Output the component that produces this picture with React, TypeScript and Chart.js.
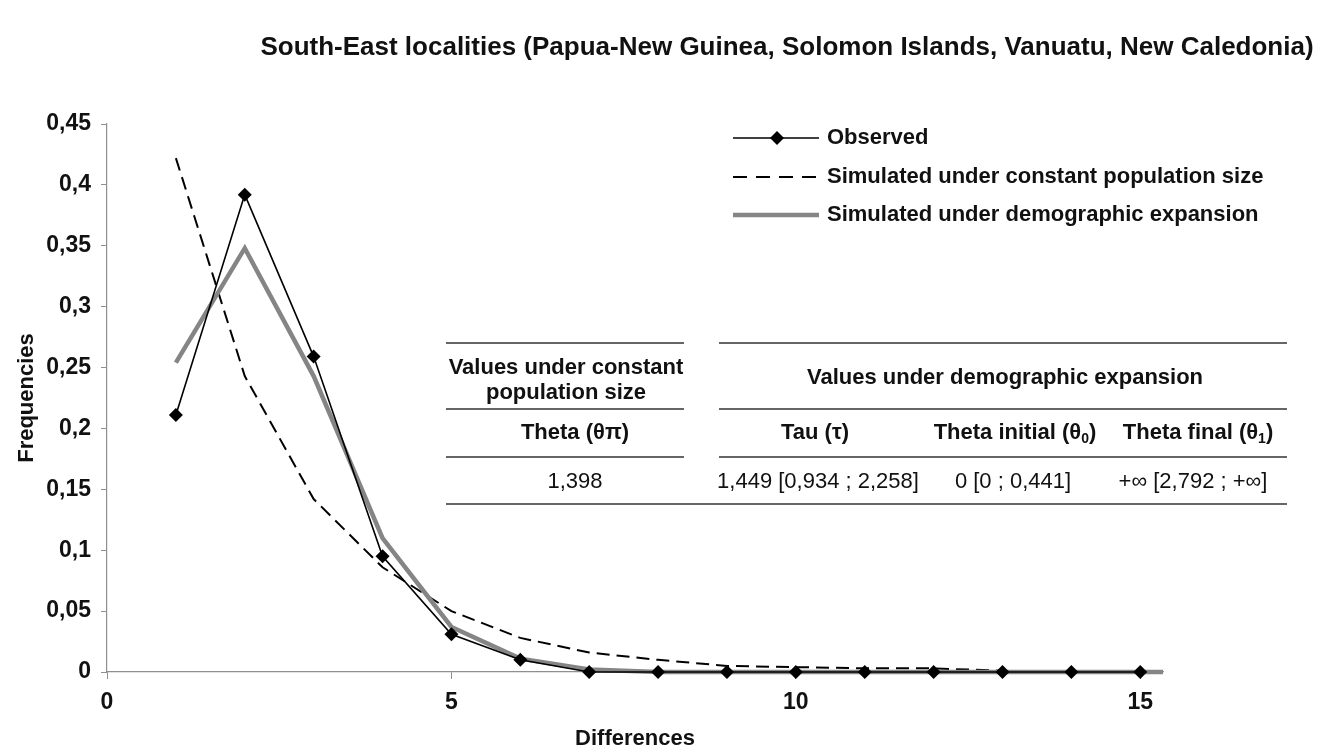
import React, { useEffect, useRef } from 'react';
import { Chart, registerables } from 'chart.js';

Chart.register(...registerables);

// ---- Data ----
const chartTitle = 'South-East localities (Papua-New Guinea, Solomon Islands, Vanuatu, New Caledonia)';
const xAxisTitle = 'Differences';
const yAxisTitle = 'Frequencies';

const observedX = [1, 2, 3, 4, 5, 6, 7, 8, 9, 10, 11, 12, 13, 14, 15];
const observed = [0.211, 0.392, 0.259, 0.095, 0.031, 0.010, 0, 0, 0, 0, 0, 0, 0, 0, 0];

const constantX = [1, 2, 3, 4, 5, 6, 7, 8, 9, 10, 11, 12, 13];
const constantSize = [0.422, 0.243, 0.142, 0.086, 0.050, 0.028, 0.016, 0.010, 0.005, 0.004, 0.003, 0.003, 0.001];

const expansionX = [1, 2, 3, 4, 5, 6, 7, 8, 9, 10, 11, 12, 13, 14, 15, 16];
const expansion = [0.254, 0.348, 0.243, 0.110, 0.037, 0.011, 0.002, 0, 0, 0, 0, 0, 0, 0, 0, 0];

const xMin = 0;
const xMax = 15.33;
const xStep = 5;
const yMin = 0;
const yMax = 0.45;
const yStep = 0.05;

const legendLabels = [
  'Observed',
  'Simulated under constant population size',
  'Simulated under demographic expansion',
];

const tableGroupHeaders = ['Values under constant|population size', 'Values under demographic expansion'];
const tableColHeaders = [
  [{ t: 'Theta (θπ)' }],
  [{ t: 'Tau (τ)' }],
  [{ t: 'Theta initial (θ' }, { t: '0', sub: true }, { t: ')' }],
  [{ t: 'Theta final (θ' }, { t: '1', sub: true }, { t: ')' }],
];
const tableValues = ['1,398', '1,449 [0,934 ; 2,258]', '0 [0 ; 0,441]', '+∞ [2,792 ; +∞]'];

const FONT = '"Liberation Sans", Arial, Helvetica, sans-serif';

function toPoints(xs: number[], ys: number[]) {
  return xs.map((x, i) => ({ x, y: ys[i] }));
}

function fmt(v: number) {
  const r = Math.round(v * 100) / 100;
  return String(r).replace('.', ',');
}

type Part = { t: string; sub?: boolean };

function drawRich(ctx: CanvasRenderingContext2D, parts: Part[], cx: number, cy: number, size: number, weight: string) {
  const main = `${weight} ${size}px ${FONT}`;
  const small = `${weight} ${Math.round(size * 0.62)}px ${FONT}`;
  let total = 0;
  const widths = parts.map((p) => {
    ctx.font = p.sub ? small : main;
    const w = ctx.measureText(p.t).width;
    total += w;
    return w;
  });
  let x = cx - total / 2;
  ctx.textAlign = 'left';
  parts.forEach((p, i) => {
    ctx.font = p.sub ? small : main;
    ctx.fillText(p.t, x, p.sub ? cy + size * 0.3 : cy);
    x += widths[i];
  });
}

const overlayPlugin = {
  id: 'overlay',
  afterDraw(chart: any) {
    const ctx: CanvasRenderingContext2D = chart.ctx;
    ctx.save();
    ctx.fillStyle = '#111';
    ctx.textBaseline = 'middle';

    // Main title
    ctx.font = `bold 26px ${FONT}`;
    ctx.textAlign = 'center';
    ctx.fillText(chartTitle, 787, 48);

    // Legend
    const lx0 = 733;
    const lx1 = 819;
    const rows = [138, 177, 215];
    ctx.lineCap = 'butt';
    // Observed
    ctx.strokeStyle = '#000';
    ctx.lineWidth = 1.6;
    ctx.setLineDash([]);
    ctx.beginPath();
    ctx.moveTo(lx0, rows[0]);
    ctx.lineTo(lx1, rows[0]);
    ctx.stroke();
    ctx.fillStyle = '#000';
    ctx.beginPath();
    const dx = 777;
    ctx.moveTo(dx, rows[0] - 7);
    ctx.lineTo(dx + 7, rows[0]);
    ctx.lineTo(dx, rows[0] + 7);
    ctx.lineTo(dx - 7, rows[0]);
    ctx.closePath();
    ctx.fill();
    // Constant (dashed)
    ctx.lineWidth = 2;
    ctx.setLineDash([14, 9]);
    ctx.beginPath();
    ctx.moveTo(lx0, rows[1]);
    ctx.lineTo(lx1, rows[1]);
    ctx.stroke();
    // Expansion (gray)
    ctx.setLineDash([]);
    ctx.strokeStyle = '#858585';
    ctx.lineWidth = 4.5;
    ctx.beginPath();
    ctx.moveTo(lx0, rows[2]);
    ctx.lineTo(lx1, rows[2]);
    ctx.stroke();

    ctx.fillStyle = '#111';
    ctx.font = `bold 22px ${FONT}`;
    ctx.textAlign = 'left';
    legendLabels.forEach((l, i) => ctx.fillText(l, 827, rows[i]));

    // Table lines
    ctx.strokeStyle = '#333';
    ctx.lineWidth = 1.6;
    const hl = (x0: number, x1: number, y: number) => {
      ctx.beginPath();
      ctx.moveTo(x0, y);
      ctx.lineTo(x1, y);
      ctx.stroke();
    };
    const L0 = 446, L1 = 684, R0 = 719, R1 = 1287;
    [343, 409, 457].forEach((y) => {
      hl(L0, L1, y);
      hl(R0, R1, y);
    });
    hl(L0, R1, 504);

    // Table group headers
    ctx.fillStyle = '#111';
    ctx.textAlign = 'center';
    ctx.font = `bold 22px ${FONT}`;
    const g0 = tableGroupHeaders[0].split('|');
    ctx.fillText(g0[0], 566, 368);
    ctx.fillText(g0[1], 566, 393);
    ctx.fillText(tableGroupHeaders[1], 1005, 378);

    // Column headers
    const colX = [575, 815, 1015, 1198];
    tableColHeaders.forEach((parts, i) => drawRich(ctx, parts as Part[], colX[i], 433, 22, 'bold'));

    // Values
    const valX = [575, 818, 1013, 1193];
    ctx.font = `22px ${FONT}`;
    ctx.textAlign = 'center';
    tableValues.forEach((v, i) => ctx.fillText(v, valX[i], 482));

    ctx.restore();
  },
};

export default function App() {
  const ref = useRef<HTMLCanvasElement | null>(null);

  useEffect(() => {
    if (!ref.current) return;
    const axisColor = '#8f8f8f';
    const tickFont = { family: FONT, size: 23, weight: 'bold' as const, lineHeight: 1.2 };
    const chart = new Chart(ref.current, {
      type: 'line',
      data: {
        datasets: [
          {
            label: legendLabels[0],
            data: toPoints(observedX, observed),
            borderColor: '#000',
            backgroundColor: '#000',
            borderWidth: 1.6,
            pointStyle: 'rectRot',
            pointRadius: 7,
            pointBorderWidth: 0,
            pointBackgroundColor: '#000',
            tension: 0,
            clip: { left: 10, top: 10, right: 10, bottom: 10 } as any,
          },
          {
            label: legendLabels[2],
            data: toPoints(expansionX, expansion),
            borderColor: '#858585',
            borderWidth: 4.5,
            pointRadius: 0,
            tension: 0,
            clip: { left: 10, top: 10, right: 0, bottom: 10 } as any,
          },
          {
            label: legendLabels[1],
            data: toPoints(constantX, constantSize),
            borderColor: '#000',
            borderWidth: 2,
            borderDash: [13, 7],
            pointRadius: 0,
            tension: 0,
            clip: { left: 10, top: 10, right: 0, bottom: 10 } as any,
          },
        ],
      },
      options: {
        animation: false,
        responsive: false,
        devicePixelRatio: 1,
        layout: { padding: { top: 124, right: 157, left: 0, bottom: 0 } },
        plugins: {
          legend: { display: false },
          title: { display: false },
          tooltip: { enabled: false },
        },
        scales: {
          x: {
            type: 'linear',
            min: xMin,
            max: xMax,
            afterFit: (s: any) => {
              s.height = 78;
            },
            ticks: {
              stepSize: xStep,
              includeBounds: false,
              color: '#111',
              font: tickFont,
              padding: 10,
              maxRotation: 0,
              callback: (v: any) => fmt(Number(v)),
            },
            grid: { drawOnChartArea: false, drawTicks: true, tickLength: 7, color: axisColor },
            border: { display: true, color: axisColor, width: 1.2 },
            title: {
              display: true,
              text: xAxisTitle,
              color: '#111',
              font: { family: FONT, size: 22, weight: 'bold', lineHeight: 1.0 },
              padding: { top: 0, bottom: 0 },
            },
          },
          y: {
            type: 'linear',
            min: yMin,
            max: yMax,
            afterFit: (s: any) => {
              s.width = 107;
            },
            ticks: {
              stepSize: yStep,
              color: '#111',
              font: tickFont,
              padding: 10,
              callback: (v: any) => fmt(Number(v)),
            },
            grid: { drawOnChartArea: false, drawTicks: true, tickLength: 6, color: axisColor },
            border: { display: true, color: axisColor, width: 1.2 },
            title: {
              display: true,
              text: yAxisTitle,
              color: '#111',
              font: { family: FONT, size: 22, weight: 'bold', lineHeight: 1.0 },
              padding: { top: 16, bottom: 0 },
            },
          },
        },
      },
      plugins: [overlayPlugin],
    });
    return () => chart.destroy();
  }, []);

  return (
    <div style={{ position: 'absolute', left: 0, top: 0, width: 1320, height: 750, background: '#fff' }}>
      <canvas ref={ref} width={1320} height={750} />
    </div>
  );
}
